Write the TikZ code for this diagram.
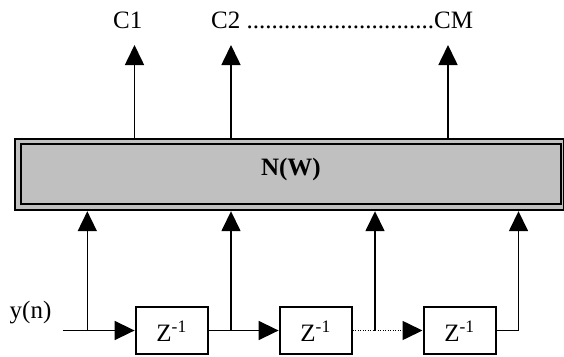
\documentclass[tikz,border=0pt]{standalone}
\usepackage{fontspec}
\setmainfont{Liberation Serif}
\usetikzlibrary{arrows.meta}
\definecolor{panelgray}{HTML}{C0C0C0}
\tikzset{
  lbl/.style={inner sep=0pt, font=\fontsize{25}{30}\selectfont},
  wire/.style={line width=1.6pt},
  arr/.style={wire, -{Triangle[length=20pt,width=19pt]}},
  dotwire/.style={wire, dash pattern=on 1.2pt off 1.3pt},
  delay/.style={draw, line width=2pt, fill=white, inner sep=0pt,
    minimum width=72pt, minimum height=47.5pt,
    font=\fontsize{25}{30}\selectfont, text height=22.4pt, text depth=0pt},
  frameouter/.style={draw, line width=2.4pt, fill=panelgray, inner sep=0pt,
    minimum width=548.6pt, minimum height=71.2pt},
  frameinner/.style={draw, line width=2pt, fill=panelgray, inner sep=0pt,
    minimum width=540.3pt, minimum height=60.8pt,
    font=\fontsize{25}{30}\selectfont\bfseries, text height=12pt, text depth=9.8pt}
}
\begin{document}
\begin{tikzpicture}[x=1pt, y=-1pt]
  \useasboundingbox (0,0) rectangle (564,356);

  % network block with its double frame
  \node[frameouter] (nwo) at (289.5,174.4) {};
  \node[frameinner] (nw) at (290.85,173.9) {N(W)};

  % output labels
  \node[lbl, anchor=base west] (c1) at (113,28) {C1};
  \node[lbl, anchor=base west] (c2m) at (211,28)
    {C2 ..............................CM};

  % output arrow tips
  \coordinate (t1) at (134.5,45);
  \coordinate (t2) at (231,45);
  \coordinate (tm) at (448,45);
  \draw[arr] (nwo.north -| t1) -- (t1);
  \draw[arr] (nwo.north -| t2) -- (t2);
  \draw[arr] (nwo.north -| tm) -- (tm);

  % tapped delay line
  \node[lbl, anchor=base west] (yn) at (9.5,318) {y(n)};
  \node[delay] (z1) at (171.6,330.5) {Z\textsuperscript{-1}};
  \node[delay] (z2) at (315.6,330.5) {Z\textsuperscript{-1}};
  \node[delay] (z3) at (459.5,330.5) {Z\textsuperscript{-1}};

  \coordinate (yin) at (62.5,330.5);
  \coordinate (j0) at (87.3,330.5);
  \coordinate (j1) at (231,330.5);
  \coordinate (j2) at (375,330.5);
  \coordinate (j3) at (518.5,330.5);

  \draw[arr] (yin) -- (z1.west);
  \draw[arr] (z1.east) -- (z2.west);
  \draw[dotwire] (z2.east) -- ([xshift=-19pt]z3.west);
  \draw[arr] ([xshift=-20pt]z3.west) -- (z3.west);
  \draw[wire] (z3.east) -- (j3);

  % taps into the network
  \draw[arr] (j0) -- (j0 |- nwo.south);
  \draw[arr] (j1) -- (j1 |- nwo.south);
  \draw[arr] (j2) -- (j2 |- nwo.south);
  \draw[arr] (j3) -- (j3 |- nwo.south);
\end{tikzpicture}
\end{document}
